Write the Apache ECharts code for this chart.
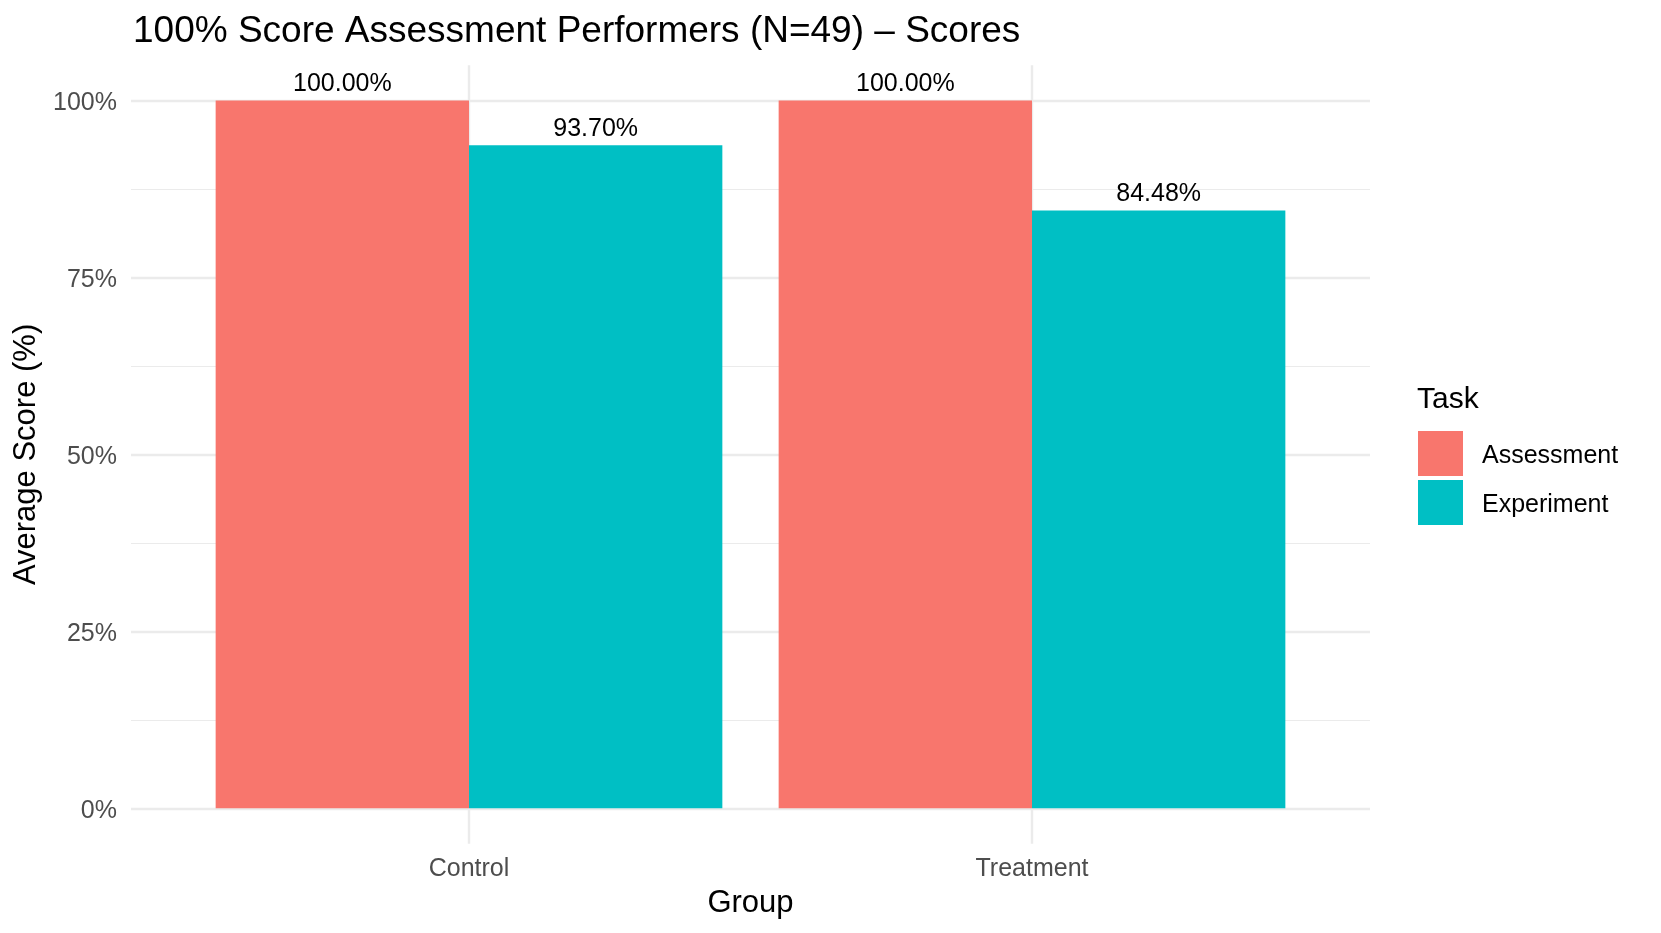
<!DOCTYPE html>
<html>
<head>
<meta charset="utf-8">
<title>100% Score Assessment Performers</title>
<script src="https://cdn.jsdelivr.net/npm/echarts@6/dist/echarts.min.js"></script>
<style>
    html, body {margin: 0; padding: 0; background: #fff;}
    #chart {width: 1661px; height: 933px;}
</style>
</head>
<body>
<div id="chart"></div>
<script>
// data
var groups = ['Control', 'Treatment'];
var tasks = ['Assessment', 'Experiment'];
var assessment = [100, 100];
var experiment = [93.70, 84.48];
var taskColors = ['#F8766D', '#00BFC4'];

var font = 'Liberation Sans, Arial, Helvetica, sans-serif';
var gridColor = '#EBEBEB';

function barLabel() {
    return {
        show: true,
        position: 'top',
        distance: 4,
        fontFamily: font,
        fontSize: 25,
        color: '#000',
        formatter: function (p) {
            return p.value.toFixed(2) + '%';
        }
    };
}

function renderChart() {
    var chart = echarts.init(document.getElementById('chart'), null, {renderer: 'canvas'});
    var option = {
        backgroundColor: '#fff',
        animation: false,
        textStyle: {fontFamily: font},
        title: [{
            text: '100% Score Assessment Performers (N=49) \u2013 Scores',
            left: 128,
            top: 8,
            textStyle: {fontFamily: font, fontSize: 37, fontWeight: 'normal', color: '#000'}
        }, {
            text: 'Task',
            left: 1412,
            top: 380,
            textStyle: {fontFamily: font, fontSize: 30, fontWeight: 'normal', color: '#000'}
        }],
        legend: {
            data: tasks,
            orient: 'vertical',
            left: 1418,
            top: 431,
            padding: 0,
            itemWidth: 45,
            itemHeight: 45,
            itemGap: 4,
            icon: 'rect',
            formatter: '{t|{name}}',
            textStyle: {
                rich: {
                    t: {fontFamily: font, fontSize: 25, color: '#000', padding: [5, 0, 0, 14]}
                }
            }
        },
        grid: [
            // bars
            {left: 187.5, width: 1126, top: 100.6, height: 707.7, containLabel: false},
            // horizontal grid lines + y labels
            {left: 131, width: 1239, top: 100.6, height: 707.7, containLabel: false},
            // vertical grid lines at the group centres
            {left: 469, width: 563, top: 65.2, height: 778.5, containLabel: false}
        ],
        xAxis: [{
            type: 'category',
            gridIndex: 0,
            data: groups,
            axisLine: {show: false},
            axisTick: {show: false},
            axisLabel: {margin: 48, fontFamily: font, fontSize: 25, color: '#4D4D4D'},
            name: 'Group',
            nameLocation: 'middle',
            nameGap: 80,
            nameTextStyle: {fontFamily: font, fontSize: 31, color: '#000'}
        }, {
            type: 'value',
            gridIndex: 1,
            min: 0,
            max: 1,
            show: false
        }, {
            type: 'value',
            gridIndex: 2,
            min: 1,
            max: 2,
            interval: 1,
            axisLine: {show: false},
            axisTick: {show: false},
            axisLabel: {show: false},
            splitLine: {show: true, lineStyle: {color: gridColor, width: 2.4}}
        }],
        yAxis: [{
            type: 'value',
            gridIndex: 0,
            min: 0,
            max: 100,
            show: false
        }, {
            type: 'value',
            gridIndex: 1,
            min: 0,
            max: 100,
            interval: 25,
            axisLine: {show: false},
            axisTick: {show: false},
            axisLabel: {
                margin: 14,
                formatter: '{v|{value}%}',
                rich: {
                    v: {fontFamily: font, fontSize: 25, color: '#4D4D4D', padding: [5, 0, 0, 0]}
                }
            },
            splitLine: {show: true, lineStyle: {color: gridColor, width: 2.4}},
            minorTick: {show: false, splitNumber: 2},
            minorSplitLine: {show: true, lineStyle: {color: gridColor, width: 1.2}},
            name: 'Average Score (%)',
            nameLocation: 'middle',
            nameRotate: 90,
            nameGap: 86,
            nameTextStyle: {fontFamily: font, fontSize: 31, color: '#000'}
        }, {
            type: 'value',
            gridIndex: 2,
            min: 0,
            max: 1,
            show: false
        }],
        series: [{
            name: tasks[0],
            type: 'bar',
            xAxisIndex: 0,
            yAxisIndex: 0,
            data: assessment,
            itemStyle: {color: taskColors[0]},
            barGap: '0%',
            barCategoryGap: '10%',
            label: barLabel()
        }, {
            name: tasks[1],
            type: 'bar',
            xAxisIndex: 0,
            yAxisIndex: 0,
            data: experiment,
            itemStyle: {color: taskColors[1]},
            barGap: '0%',
            barCategoryGap: '10%',
            label: barLabel()
        }]
    };
    chart.setOption(option);
}

renderChart();
</script>
</body>
</html>
